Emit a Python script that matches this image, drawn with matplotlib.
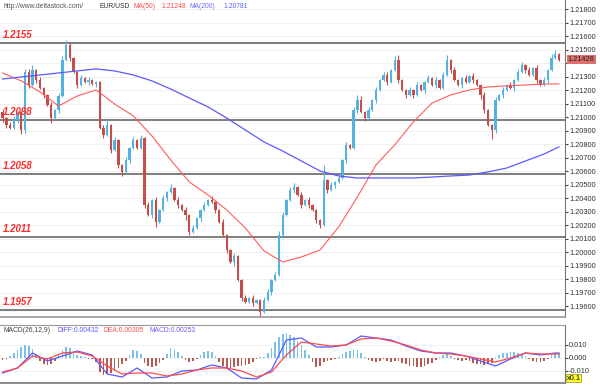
import matplotlib.pyplot as plt

# EUR/USD candles (close prices, one per bar)
closes = [
    1.20995, 1.20943, 1.20921, 1.20980, 1.21040, 1.20906, 1.21336, 1.21240, 1.21351, 1.21277,
    1.21218, 1.21166, 1.21092, 1.20995, 1.21054, 1.21158, 1.21425, 1.21537, 1.21440, 1.21336,
    1.21240, 1.21292, 1.21262, 1.21277, 1.21247, 1.21262, 1.20921, 1.20869, 1.20943, 1.20758,
    1.20832, 1.20647, 1.20595, 1.20684, 1.20773, 1.20832, 1.20773, 1.20847, 1.20350, 1.20276,
    1.20387, 1.20224, 1.20313, 1.20402, 1.20446, 1.20476, 1.20387, 1.20350, 1.20313, 1.20276,
    1.20150, 1.20179, 1.20253, 1.20313, 1.20350, 1.20387, 1.20372, 1.20313, 1.20224, 1.20127,
    1.20016, 1.19927, 1.19972, 1.19793, 1.19660, 1.19630, 1.19660, 1.19623, 1.19645, 1.19556,
    1.19645, 1.19704, 1.19793, 1.19830, 1.20127, 1.20276, 1.20387, 1.20461, 1.20483, 1.20424,
    1.20350, 1.20387, 1.20350, 1.20313, 1.20239, 1.20201, 1.20535, 1.20461, 1.20498, 1.20520,
    1.20550, 1.20684, 1.20795, 1.20773, 1.21054, 1.21129, 1.21040, 1.20995, 1.21054, 1.21129,
    1.21203, 1.21277, 1.21314, 1.21262, 1.21351, 1.21425, 1.21277, 1.21203, 1.21166, 1.21203,
    1.21166, 1.21240, 1.21203, 1.21262, 1.21292, 1.21240, 1.21277, 1.21218, 1.21314, 1.21425,
    1.21351, 1.21277, 1.21240, 1.21292, 1.21262, 1.21307, 1.21277, 1.21240, 1.21166, 1.21054,
    1.20943, 1.20906, 1.21129, 1.21166, 1.21203, 1.21240, 1.21218, 1.21277, 1.21336, 1.21388,
    1.21351, 1.21314, 1.21366, 1.21277, 1.21240, 1.21277, 1.21351, 1.21440, 1.21470, 1.21428,
]
first_open = 1.21040
# wick lengths in pips above / below the body
wick_up = [
    2, 1, 2, 3, 1, 1, 2, 2, 4, 1, 2, 1, 1, 2, 1, 2, 3, 4, 2, 1,
    1, 2, 1, 2, 1, 1, 1, 2, 4, 1, 2, 1, 1, 2, 1, 2, 1, 2, 1, 2,
    1, 2, 1, 2, 1, 3, 1, 2, 1, 2, 1, 2, 1, 1, 2, 1, 3, 1, 1, 2,
    1, 1, 2, 1, 1, 2, 1, 2, 1, 1, 2, 2, 1, 2, 3, 2, 1, 2, 3, 1,
    2, 1, 2, 1, 1, 1, 11, 1, 2, 1, 2, 1, 2, 1, 2, 4, 3, 1, 2, 1,
    2, 1, 2, 2, 1, 3, 4, 1, 1, 2, 1, 2, 1, 1, 2, 1, 2, 1, 2, 4,
    1, 2, 1, 1, 2, 1, 2, 1, 1, 2, 1, 1, 2, 1, 2, 1, 2, 1, 2, 2,
    1, 2, 1, 2, 1, 2, 1, 3, 3, 1,
]
wick_dn = [
    3, 2, 1, 1, 2, 3, 2, 2, 1, 2, 1, 2, 1, 4, 1, 2, 1, 1, 2, 1,
    2, 1, 1, 2, 1, 2, 1, 2, 1, 2, 1, 2, 3, 1, 2, 1, 1, 1, 2, 1,
    2, 4, 1, 1, 2, 1, 1, 2, 1, 4, 2, 1, 1, 2, 1, 1, 1, 2, 1, 1,
    2, 1, 3, 1, 2, 1, 1, 2, 1, 3, 1, 1, 2, 1, 1, 2, 1, 1, 2, 1,
    2, 1, 2, 1, 2, 2, 1, 2, 1, 2, 1, 1, 2, 1, 1, 2, 1, 2, 1, 1,
    2, 1, 1, 2, 1, 1, 2, 1, 2, 1, 2, 1, 1, 2, 1, 1, 2, 1, 1, 1,
    2, 1, 1, 2, 1, 1, 2, 1, 3, 2, 1, 7, 2, 1, 2, 1, 1, 2, 1, 1,
    2, 1, 1, 2, 1, 1, 2, 1, 1, 1,
]

# moving averages read at every 5th bar
ma_idx = [0, 5, 10, 15, 20, 25, 30, 35, 40, 45, 50, 55, 60, 65, 70, 75, 80, 85, 90, 95,
          100, 105, 110, 115, 120, 125, 130, 135, 140, 145, 149]
ma50 = [1.21329, 1.21270, 1.21188, 1.21084, 1.21158, 1.21203, 1.21099, 1.21010, 1.20862, 1.20684,
        1.20520, 1.20424, 1.20313, 1.20179, 1.20009, 1.19927, 1.19964, 1.20016, 1.20187, 1.20409,
        1.20647, 1.20795, 1.20966, 1.21106, 1.21166, 1.21203, 1.21225, 1.21233, 1.21240, 1.21247,
        1.21248]
ma200 = [1.21284, 1.21299, 1.21314, 1.21329, 1.21344, 1.21359, 1.21344, 1.21314, 1.21270, 1.21210,
         1.21143, 1.21077, 1.20995, 1.20906, 1.20817, 1.20750, 1.20676, 1.20602, 1.20565, 1.20550,
         1.20550, 1.20550, 1.20550, 1.20557, 1.20565, 1.20572, 1.20595, 1.20624, 1.20676, 1.20728,
         1.20781]

levels = [1.2155, 1.2098, 1.2058, 1.2011, 1.1957]

# MACD histogram, one per bar
macd_hist = [
    -0.0015, -0.0010, 0.0015, 0.0040, 0.0065, 0.0085, 0.0100, 0.0090, 0.0070, 0.0030,
    -0.0020, -0.0045, -0.0054, -0.0045, -0.0020, 0.0030, 0.0065, 0.0085, 0.0075, 0.0050,
    0.0025, 0.0015, 0.0010, -0.0005, -0.0010, -0.0030, -0.0110, -0.0130, -0.0120, -0.0115,
    -0.0095, -0.0080, -0.0050, -0.0020, 0.0025, 0.0060, 0.0050, 0.0030, -0.0040, -0.0065,
    -0.0070, -0.0060, -0.0040, -0.0015, 0.0030, 0.0077, 0.0065, 0.0045, 0.0015, -0.0015,
    -0.0030, -0.0025, -0.0010, 0.0020, 0.0045, 0.0054, 0.0045, 0.0015, -0.0030, -0.0060,
    -0.0075, -0.0077, -0.0070, -0.0060, -0.0065, -0.0055, -0.0045, -0.0030, -0.0010, 0.0010,
    0.0005, 0.0040, 0.0080, 0.0120, 0.0160, 0.0185, 0.0190, 0.0180, 0.0160, 0.0130,
    0.0100, 0.0060, 0.0025, -0.0030, -0.0070, -0.0060, -0.0030, -0.0020, -0.0015, -0.0010,
    0.0010, 0.0030, 0.0045, 0.0055, 0.0060, 0.0060, 0.0040, 0.0010, -0.0015, -0.0025,
    -0.0030, -0.0020, -0.0010, -0.0020, -0.0030, -0.0025, -0.0020, -0.0035, -0.0050, -0.0060,
    -0.0065, -0.0070, -0.0070, -0.0065, -0.0050, -0.0035, -0.0015, 0.0010, 0.0025, 0.0030,
    0.0015, -0.0010, -0.0015, -0.0020, -0.0015, -0.0020, -0.0035, -0.0045, -0.0050, -0.0054,
    -0.0050, -0.0035, 0.0010, 0.0025, 0.0035, 0.0040, 0.0045, 0.0045, 0.0040, 0.0030,
    0.0015, -0.0010, -0.0020, -0.0030, -0.0030, -0.0025, -0.0010, 0.0020, 0.0035, 0.0040,
]
# DIFF / DEA lines read every 4th bar
macd_idx = [0, 4, 8, 12, 16, 20, 24, 28, 32, 36, 40, 44, 48, 52, 56, 60, 64, 68, 72, 76,
            80, 84, 88, 92, 96, 100, 104, 108, 112, 116, 120, 124, 128, 132, 136, 140, 144, 148, 149]
diff = [-0.01154, -0.00769, 0.00385, -0.00231, 0.00154, 0.00538, 0.00231, -0.01231, -0.01462, -0.00769,
        -0.01538, -0.01462, -0.01000, -0.00923, -0.00538, -0.00769, -0.01538, -0.01615, -0.00923, 0.01385,
        0.01538, 0.00846, 0.00846, 0.01000, 0.01692, 0.01538, 0.01385, 0.00923, 0.00538, 0.00385,
        0.00385, 0.00154, -0.00231, -0.00615, -0.00077, 0.00385, 0.00231, 0.00385, 0.00385]
dea = [-0.01077, -0.00769, 0.00154, -0.00077, 0.00385, 0.00462, 0.00154, -0.00615, -0.01231, -0.01154,
       -0.01154, -0.01385, -0.01231, -0.00923, -0.00769, -0.00769, -0.01000, -0.01462, -0.01077, 0.00231,
       0.01231, 0.01077, 0.00923, 0.01000, 0.01462, 0.01538, 0.01308, 0.01000, 0.00615, 0.00385,
       0.00308, 0.00154, -0.00077, -0.00308, 0.00000, 0.00385, 0.00308, 0.00308, 0.00308]

up_col = '#55b2e0'
dn_col = '#c44e4a'

fig = plt.figure(figsize=(6, 3.9), dpi=100)
plt.rcParams['font.family'] = ['Liberation Sans', 'DejaVu Sans']

W = 600.0
H = 390.0
ax = fig.add_axes([0, 1 - 317 / H, 565 / W, 317 / H])
ax2 = fig.add_axes([0, 1 - 383 / H, 565 / W, 58 / H])

opens = [first_open] + closes[:-1]
n = len(closes)
for i in range(n):
    o = opens[i]
    c = closes[i]
    col = up_col if c >= o else dn_col
    hi = max(o, c) + wick_up[i] * 0.0001
    lo = min(o, c) - wick_dn[i] * 0.0001
    ax.vlines(i, lo, hi, color=col, lw=0.8, zorder=3)
    body = max(abs(c - o), 0.00004)
    ax.bar(i, body, bottom=min(o, c), width=0.62, color=col, lw=0, zorder=3)

ax.plot(ma_idx, ma50, color='#ff5c5c', lw=0.8, zorder=4)
ax.plot(ma_idx, ma200, color='#5a5aff', lw=0.9, zorder=4)

for lv in levels:
    ax.axhline(lv, color='#5a5a5a', lw=1.1, zorder=2)
    ax.text(0.0, lv + 0.00025, '%.4f' % lv, color='#ff2a2a', fontsize=7,
            fontweight='bold', fontstyle='italic', va='bottom', ha='left', zorder=6)

ax.set_xlim(-0.7, 150.6)
ax.set_ylim(1.19519, 1.21870)
tick_vals = [1.196 + 0.001 * k for k in range(23)]
ax.set_yticks(tick_vals)
# the last-price tag covers the 1.21400 label
ax.set_yticklabels(['' if abs(v - 1.214) < 1e-6 else '%.5f' % v for v in tick_vals])
ax.yaxis.tick_right()
ax.tick_params(axis='y', labelsize=5.3, length=2, pad=1, colors='#444444', labelcolor='#333333')
ax.set_xticks([])
ax.grid(axis='y', color='#eeeeee', lw=0.6, zorder=0)
for s in ['top', 'left']:
    ax.spines[s].set_visible(False)
ax.spines['right'].set_color('#777777')
ax.spines['bottom'].set_color('#999999')
ax.spines['bottom'].set_linewidth(1.2)

# last price tag
ax.text(1.005, closes[-1], '%.5f' % closes[-1], transform=ax.get_yaxis_transform(),
        fontsize=5.3, color='#222222', va='center', ha='left',
        bbox=dict(boxstyle='square,pad=0.15', fc='#de6f6b', ec='none'))

# MACD panel
hcol = ['#7cc0e4' if v >= 0 else '#b65a52' for v in macd_hist]
ax2.bar(range(n), macd_hist, width=0.45, color=hcol, lw=0, zorder=2)
ax2.plot(macd_idx, diff, color='#5a5aff', lw=0.9, zorder=3)
ax2.plot(macd_idx, dea, color='#ff4c4c', lw=0.9, zorder=3)
ax2.set_xlim(-0.7, 150.6)
ax2.set_ylim(-0.01923, 0.02538)
ax2.set_yticks([-0.01, 0, 0.01])
ax2.set_yticklabels(['-0.010', '0.000', '0.010'])
ax2.yaxis.tick_right()
ax2.tick_params(axis='y', labelsize=5.3, length=2, pad=1, colors='#444444', labelcolor='#333333')
ax2.set_xticks([])
ax2.grid(axis='y', color='#eeeeee', lw=0.6, zorder=0)
ax2.spines['left'].set_visible(False)
ax2.spines['right'].set_color('#777777')
ax2.spines['top'].set_color('#999999')
ax2.spines['bottom'].set_color('#777777')
ax2.spines['bottom'].set_linewidth(1.2)
ax2.text(1.003, -0.0155, 'x0.1', transform=ax2.get_yaxis_transform(), fontsize=5.3,
         va='center', ha='left', bbox=dict(boxstyle='square,pad=0.1', fc='#ffff30', ec='#999900', lw=0.5))

# header texts
def ftext(xp, yp, s, col, size=4.9):
    fig.text(xp / W, 1 - yp / H, s, color=col, fontsize=size, va='center', ha='left')

ftext(3, 7, 'http://www.deltastock.com/', '#555555')
ftext(100, 7, 'EUR/USD', '#333333')
ftext(133, 7, 'MA(50)', '#ff4c4c')
ftext(161, 7, '1.21248', '#ff4c4c')
ftext(190, 7, 'MA(200)', '#7070ff')
ftext(223, 7, '1.20781', '#6060ff')

ftext(3, 330, 'MACD(26,12,9)', '#444444')
ftext(57, 330, 'DIFF:0.00432', '#5a5aff')
ftext(104, 330, 'DEA:0.00305', '#ff4c4c')
ftext(150, 330, 'MACD:0.00253', '#7a5aff')

fig.savefig('out.png', dpi=100)
